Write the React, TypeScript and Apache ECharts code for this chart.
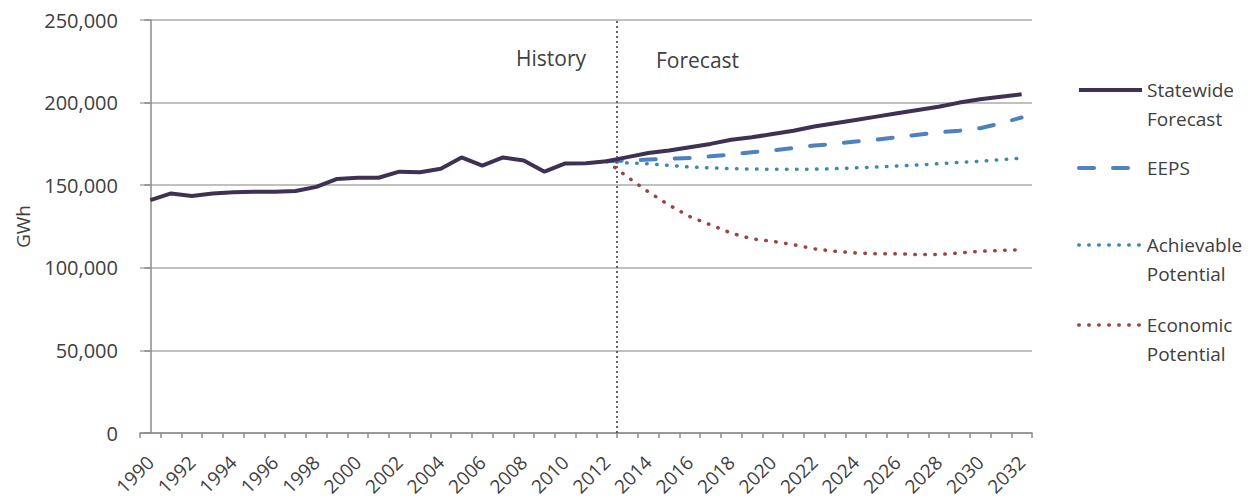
import React, { useEffect, useRef } from "react";
import * as echarts from "echarts";

const years: string[] = [];
for (let y = 1990; y <= 2032; y++) years.push(String(y));

const historyValues = [
  141000, 145000, 143500, 145000, 145800, 146000, 146000, 146500, 149000, 153800,
  154500, 154500, 158200, 157800, 160000, 166800, 161800, 166800, 165000, 158200,
  163200, 163300, 164500,
];
// 2013-2032
const statewideForecast = [
  167000, 169500, 171000, 173000, 175000, 177500, 179000, 181000, 183000, 185500,
  187500, 189500, 191500, 193500, 195500, 197500, 200000, 202000, 203500, 205000,
];
// 2012-2032
const eepsValues = [
  164500, 165000, 165500, 166000, 166500, 167500, 168500, 170000, 171000, 172500,
  174000, 175000, 176500, 177500, 179000, 180500, 182000, 183000, 184500, 187500,
  191000,
];
const achievableValues = [
  164500, 163500, 163000, 162000, 161000, 160500, 160000, 159800, 159600, 159600,
  159700, 160000, 160500, 161000, 161600, 162200, 163000, 163800, 164500, 165500,
  166300,
];
const economicValues = [
  164500, 155000, 146000, 138000, 131000, 126000, 121000, 117500, 116000, 114000,
  111500, 110000, 109000, 108500, 108500, 108000, 108000, 109000, 110000, 110500,
  111000,
];
const yTicks = { min: 0, max: 250000, interval: 50000 };
const forecastBoundary = 22.5; // between 2012 and 2013 (category index)

const FONT = "Open Sans";
const TXT = "#404040";

const pad = (vals: number[]) =>
  (new Array(years.length - vals.length).fill(null) as (number | null)[]).concat(vals);

export default function App() {
  const ref = useRef<HTMLDivElement>(null);
  useEffect(() => {
    if (!ref.current) return;
    const chart = echarts.init(ref.current, undefined, { renderer: "svg" });
    const statewide = historyValues.concat(statewideForecast);
    const lh = 29;
    const legendBase = {
      orient: "vertical" as const,
      left: 1077,
      padding: 0,
      itemWidth: 63,
      itemHeight: 14,
      selectedMode: false,
      itemStyle: { opacity: 0 },
    };
    const legendText = { fontSize: 19, color: TXT, fontFamily: FONT, lineHeight: lh };
    chart.setOption({
      animation: false,
      backgroundColor: "#ffffff",
      textStyle: { fontFamily: FONT },
      grid: { left: 140, right: 226, top: 20, bottom: 69 },
      xAxis: [
        {
          type: "category",
          data: years,
          boundaryGap: true,
          axisLine: { show: true, lineStyle: { color: "#8c8c8c", width: 1.5 } },
          axisTick: { show: true, interval: 0, length: 5, lineStyle: { color: "#8c8c8c", width: 1.5 } },
          axisLabel: {
            interval: 1,
            rotate: 45,
            margin: 26,
            fontSize: 19,
            color: TXT,
            fontFamily: FONT,
          },
          splitLine: { show: false },
        },
        {
          type: "value",
          min: -0.5,
          max: years.length - 0.5,
          show: false,
          gridIndex: 0,
        },
      ],
      yAxis: {
        type: "value",
        min: yTicks.min,
        max: yTicks.max,
        interval: yTicks.interval,
        name: "GWh",
        nameLocation: "middle",
        nameGap: 108,
        nameRotate: 90,
        nameTextStyle: { fontSize: 19, color: TXT, fontFamily: FONT },
        axisLine: { show: true, lineStyle: { color: "#8c8c8c", width: 1.5 } },
        axisTick: { show: true, length: 6, lineStyle: { color: "#8c8c8c", width: 1.5 } },
        axisLabel: {
          margin: 22,
          fontSize: 20,
          color: TXT,
          fontFamily: FONT,
          formatter: (v: number) => v.toLocaleString("en-US"),
        },
        splitLine: { show: true, lineStyle: { color: "#ababab", width: 1.5 } },
      },
      legend: [
        {
          ...legendBase,
          top: 90 - 1.5 * lh,
          data: ["Statewide Forecast"],
          formatter: () => "\nStatewide\nForecast",
          lineStyle: { width: 4 },
          textStyle: legendText,
        },
        {
          ...legendBase,
          top: 168 - lh / 2,
          data: ["EEPS"],
          lineStyle: { width: 4 },
          textStyle: legendText,
        },
        {
          ...legendBase,
          top: 245 - 1.5 * lh,
          data: ["Achievable Potential"],
          formatter: () => "\nAchievable\nPotential",
          lineStyle: { width: 3.5 },
          textStyle: legendText,
        },
        {
          ...legendBase,
          top: 325 - 1.5 * lh,
          data: ["Economic Potential"],
          formatter: () => "\nEconomic\nPotential",
          lineStyle: { width: 3.5 },
          textStyle: legendText,
        },
      ],
      graphic: [
        {
          type: "text",
          left: 516,
          top: 47,
          silent: true,
          style: { text: "History", fontSize: 21, fill: TXT, fontFamily: FONT },
        },
        {
          type: "text",
          left: 656,
          top: 49,
          silent: true,
          style: { text: "Forecast", fontSize: 21, fill: TXT, fontFamily: FONT },
        },
      ],
      series: [
        {
          name: "Economic Potential",
          type: "line",
          data: pad(economicValues),
          symbol: "none",
          lineStyle: { color: "#9b4542", width: 3.5, type: [0.5, 9.5], cap: "round" },
          itemStyle: { color: "#9b4542" },
        },
        {
          name: "Achievable Potential",
          type: "line",
          data: pad(achievableValues),
          symbol: "none",
          lineStyle: { color: "#3a8c9e", width: 3.5, type: [0.5, 9.5], cap: "round" },
          itemStyle: { color: "#3a8c9e" },
        },
        {
          name: "EEPS",
          type: "line",
          data: pad(eepsValues),
          symbol: "none",
          lineStyle: { color: "#4f81bd", width: 4, type: [15, 19], cap: "round" },
          itemStyle: { color: "#4f81bd" },
        },
        {
          name: "Statewide Forecast",
          type: "line",
          data: statewide,
          symbol: "none",
          lineStyle: { color: "#3f3152", width: 4 },
          itemStyle: { color: "#3f3152" },
        },
        {
          name: "boundary",
          type: "line",
          xAxisIndex: 1,
          data: [],
          symbol: "none",
          markLine: {
            silent: true,
            symbol: "none",
            label: { show: false },
            lineStyle: { color: "#555555", width: 1.8, type: [2, 3] },
            data: [{ xAxis: forecastBoundary }],
          },
        },
      ],
    });
    return () => chart.dispose();
  }, []);
  return (
    <div
      ref={ref}
      style={{ position: "fixed", left: 0, top: 0, width: 1258, height: 502, background: "#fff" }}
    />
  );
}
